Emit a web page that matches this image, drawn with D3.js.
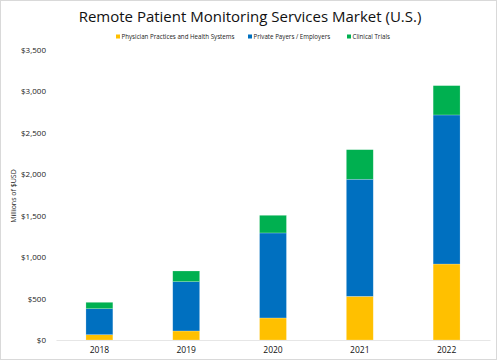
<!DOCTYPE html>
<html>
<head>
<meta charset="utf-8">
<script src="https://cdn.jsdelivr.net/npm/d3@7"></script>
<style>
  body { margin: 0; background: #fff; }
  svg { display: block; font-family: 'Open Sans', sans-serif; }
</style>
</head>
<body>
<svg id="chart" width="500" height="362"></svg>
<script>
const years = ['2018', '2019', '2020', '2021', '2022'];
const physician = [64, 109, 266, 527, 917];
const payers = [314, 595, 1026, 1413, 1799];
const trials = [77, 129, 213, 357, 354];
const seriesNames = ['Physician Practices and Health Systems', 'Private Payers / Employers', 'Clinical Trials'];
const colors = ['#FFC000', '#0070C0', '#00B050'];
const yTicks = [0, 500, 1000, 1500, 2000, 2500, 3000, 3500];

const margin = { top: 50, right: 10, bottom: 22, left: 56 };

const svg = d3.select('#chart');

// outer frame
svg.append('rect')
  .attr('x', 0.5).attr('y', 0.5)
  .attr('width', 496).attr('height', 359)
  .attr('fill', '#fff')
  .attr('stroke', '#d9d9d9');

const rows = years.map((y, i) => ({ year: y, a: physician[i], b: payers[i], c: trials[i] }));
const stack = d3.stack().keys(['a', 'b', 'c'])(rows);

const x = d3.scaleBand()
  .domain(years)
  .range([margin.left, 490])
  .paddingInner(0.69)
  .paddingOuter(0.345);

const y = d3.scaleLinear()
  .domain([0, 3500])
  .range([340, 50]);

// title
svg.append('text')
  .attr('x', 250).attr('y', 22)
  .attr('text-anchor', 'middle')
  .attr('font-size', '15px')
  .attr('fill', '#111')
  .text('Remote Patient Monitoring Services Market (U.S.)');

// legend
const legendX = [116, 248, 347];
seriesNames.forEach((name, i) => {
  const lg = svg.append('g').attr('transform', `translate(${legendX[i]},37)`);
  lg.append('rect').attr('x', 0).attr('y', -2.5).attr('width', 4).attr('height', 4).attr('fill', colors[i]);
  lg.append('text')
    .attr('x', 5.5).attr('y', 2)
    .attr('font-size', '6.2px')
    .attr('fill', '#222')
    .text(name);
});

// y axis labels
const yAxis = svg.append('g')
  .attr('transform', `translate(46,0)`)
  .call(d3.axisLeft(y).tickValues(yTicks).tickSize(0).tickPadding(0)
    .tickFormat(d => '$' + d3.format(',')(d)));
yAxis.select('.domain').remove();
yAxis.selectAll('text')
  .attr('font-size', '8px')
  .attr('font-family', "'Open Sans', sans-serif")
  .attr('fill', '#222');

svg.append('text')
  .attr('transform', 'translate(16,196) rotate(-90)')
  .attr('text-anchor', 'middle')
  .attr('font-size', '7px')
  .attr('fill', '#222')
  .text('Millions of $USD');

// bars
svg.append('g')
  .selectAll('g')
  .data(stack)
  .join('g')
  .attr('fill', (d, i) => colors[i])
  .selectAll('rect')
  .data(d => d)
  .join('rect')
  .attr('x', d => x(d.data.year))
  .attr('y', d => y(d[1]))
  .attr('width', x.bandwidth())
  .attr('height', d => y(d[0]) - y(d[1]))
  .attr('stroke', '#ffffff')
  .attr('stroke-opacity', 0.35)
  .attr('stroke-width', 0.6);

// x axis
const xAxis = svg.append('g')
  .attr('transform', 'translate(0,340)')
  .call(d3.axisBottom(x).tickSize(0).tickPadding(7));
xAxis.select('.domain').attr('stroke', '#e6e6e6').attr('stroke-width', 1.2);
xAxis.selectAll('text')
  .attr('font-size', '8.5px')
  .attr('font-family', "'Open Sans', sans-serif")
  .attr('fill', '#111');
</script>
</body>
</html>
